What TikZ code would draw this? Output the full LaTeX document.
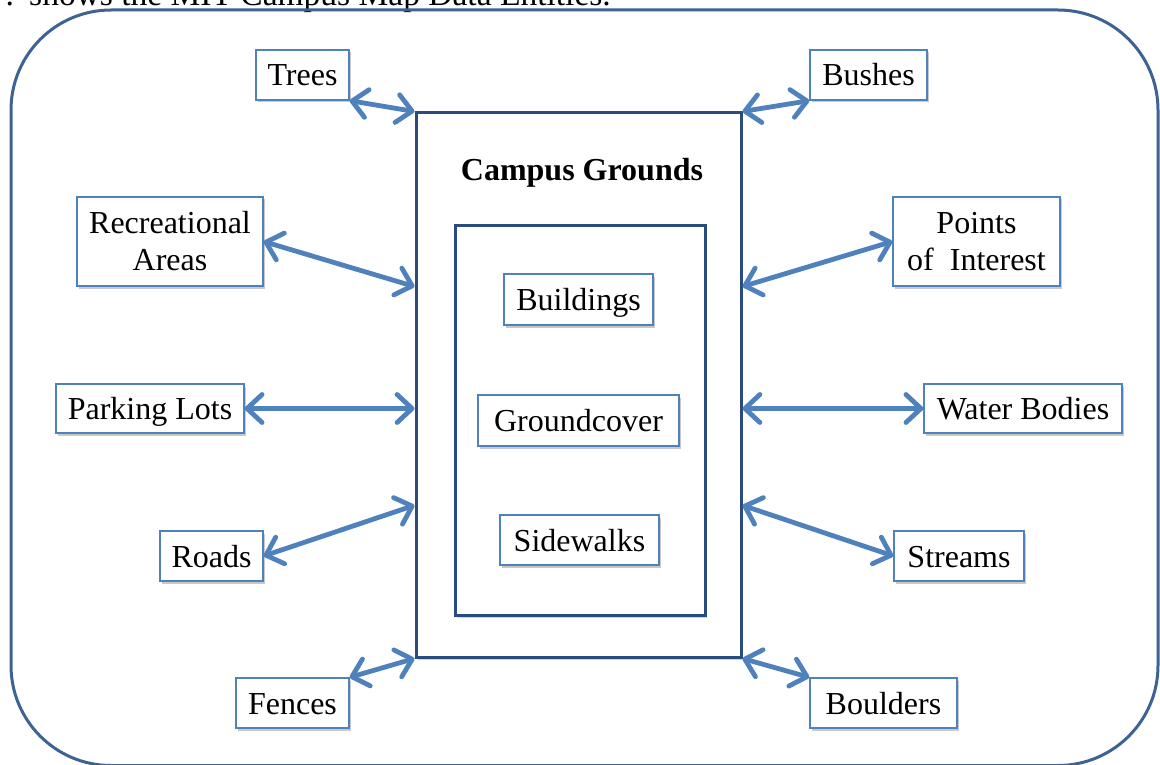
\documentclass[tikz,border=0pt]{standalone}
\usepackage{fontspec}
\setmainfont{Liberation Serif}
\usetikzlibrary{arrows.meta,shadows,calc}

\definecolor{framecol}{RGB}{62,98,145}
\definecolor{boxcol}{RGB}{42,76,124}
\definecolor{edgecol}{RGB}{79,129,189}
\definecolor{arrowcol}{RGB}{79,129,189}

\begin{document}
\begin{tikzpicture}[x=1pt,y=-1pt,
  lbl/.style={font=\fontsize{32}{37}\selectfont},
  entitybase/.style={draw=edgecol, line width=1.3pt, fill=white, inner sep=0pt,
    minimum height=50pt, minimum width=#1, align=center,
    font=\fontsize{32}{37}\selectfont,
    drop shadow={shadow xshift=2pt, shadow yshift=-2.5pt, opacity=0.3, fill=black!70}},
  entity/.style={entitybase=#1, text height=22pt, text depth=0pt},
  entitytwo/.style={entitybase=#1, minimum height=89pt},
  bigbox/.style={draw=boxcol, line width=3pt, inner sep=0pt, fill=white,
    drop shadow={shadow xshift=2pt, shadow yshift=-2.5pt, opacity=0.25, fill=black!70}},
  link/.style={draw=arrowcol, line width=4.8pt, line cap=round,
    {Straight Barb[length=15pt,width=28pt,round]}-{Straight Barb[length=15pt,width=28pt,round]}},
]
\useasboundingbox (0,0) rectangle (1160,765);
\clip (0,0) rectangle (1160,765);

% caption line running off the top edge
\node[anchor=base west, inner sep=0pt, font=\fontsize{33.5}{38}\selectfont] (caption) at (3,5.5)
  {? shows the MIT Campus Map Data Entities.};

% rounded outer frame
\draw[framecol, line width=3pt, rounded corners=100pt] (11,10) rectangle (1158,765.5);

% central containers
\node[bigbox, minimum width=325pt, minimum height=544pt] (cg) at (578.5,385) {};
\node[lbl, font=\bfseries\fontsize{32}{37}\selectfont] (cgtitle) at (582,173) {Campus Grounds};
\node[bigbox, minimum width=250pt, minimum height=390pt] (inner) at (580,420) {};

\node[entity=149pt, minimum height=51pt] (buildings) at (578.5,299.5) {Buildings};
\node[entity=201pt, minimum height=51pt] (groundcover) at (578.5,420.5) {Groundcover};
\node[entity=159pt] (sidewalks) at (579.5,540) {Sidewalks};

% left-hand entities
\node[entity=93pt] (trees) at (302.5,75) {Trees};
\node[entitytwo=186pt] (rec) at (170,241.5) {Recreational\\Areas};
\node[entity=188pt, minimum height=49pt] (parking) at (150,408.5) {Parking Lots};
\node[entity=103pt] (roads) at (211.5,556) {Roads};
\node[entity=113pt] (fences) at (292.5,703) {Fences};

% right-hand entities
\node[entity=117pt] (bushes) at (868.5,75) {Bushes};
\node[entitytwo=167pt] (points) at (976.5,241.5) {Points\\of~~Interest};
\node[entity=198pt, minimum height=49pt] (water) at (1023,408.5) {Water Bodies};
\node[entity=130pt] (streams) at (959,556) {Streams};
\node[entity=147pt] (boulders) at (883.5,703) {Boulders};

% attachment points on the sides of the campus box
\coordinate (cgL1) at ($(cg.north west)!0.32!(cg.south west)$);
\coordinate (cgL3) at ($(cg.north west)!0.72!(cg.south west)$);
\coordinate (cgR1) at ($(cg.north east)!0.32!(cg.south east)$);
\coordinate (cgR3) at ($(cg.north east)!0.72!(cg.south east)$);

% two-way links
\draw[link] (trees.south east) -- (cg.north west);
\draw[link] (rec.east) -- (cgL1);
\draw[link] (parking.east) -- (cg.west |- parking.east);
\draw[link] (roads.east) -- (cgL3);
\draw[link] (fences.north east) -- (cg.south west);

\draw[link] (cg.north east) -- (bushes.south west);
\draw[link] (cgR1) -- (points.west);
\draw[link] (cg.east |- water.west) -- (water.west);
\draw[link] (cgR3) -- (streams.west);
\draw[link] (cg.south east) -- (boulders.north west);
\end{tikzpicture}
\end{document}
